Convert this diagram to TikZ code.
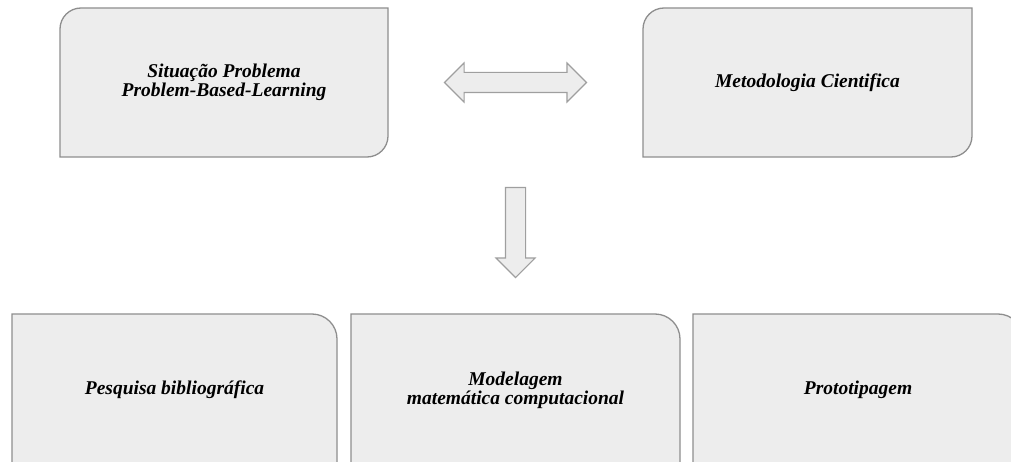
\documentclass[tikz,border=0pt]{standalone}
\usepackage{fontspec}
\setmainfont{Liberation Serif}
\usetikzlibrary{shapes.arrows,backgrounds,calc}

\definecolor{boxfill}{HTML}{EDEDED}
\definecolor{boxline}{HTML}{8E8E8E}

\tikzset{
  box/.style={rectangle, inner sep=0pt, outer sep=0pt, align=center,
    font=\bfseries\itshape\fontsize{19.5}{17.5}\selectfont},
  frame/.style={fill=boxfill, draw=boxline, line width=1.3pt},
  blockarrow/.style={fill=boxfill, draw=boxline!85, line width=1.1pt,
    inner sep=9.5pt, outer sep=0pt}
}

\begin{document}
\begin{tikzpicture}[x=1pt,y=1pt]
        \useasboundingbox (0,0) rectangle (1011,461);
        \clip (0,0) rectangle (1011,461);

        %top boxes
        \node (sit) [box, minimum width=328, minimum height=149] at (224,378.5)
              {Situação Problema\\Problem-Based-Learning};
        \node (met) [box, minimum width=329, minimum height=149] at (807.5,378.5)
              {Metodologia Cientifica};

        %bottom boxes
        \node (pesq) [box, minimum width=325, minimum height=152] at (174.5,71)
              {Pesquisa bibliográfica};
        \node (mod) [box, minimum width=329, minimum height=152] at (515.5,71)
              {Modelagem\\matemática computacional};
        \node (prot) [box, minimum width=330, minimum height=152] at (858,71)
              {Prototipagem};

        %outlines
        \begin{scope}[on background layer]
          \foreach \n in {sit,met}
            \draw[frame] (\n.south west) -- ([yshift=-21]\n.north west)
              arc[start angle=180, end angle=90, radius=21] -- (\n.north east)
              -- ([yshift=21]\n.south east)
              arc[start angle=0, end angle=-90, radius=21] -- cycle;
          \foreach \n in {pesq,mod,prot}
            \draw[frame] (\n.south west) -- (\n.north west)
              -- ([xshift=-25]\n.north east)
              arc[start angle=90, end angle=0, radius=25] -- (\n.south east) -- cycle;
        \end{scope}

        %arrows
        \node (both) [blockarrow, double arrow, double arrow head extend=9.5pt,
              minimum height=142] at ($(sit.east)!0.5!(met.west)$) {};
        \node (down) [blockarrow, single arrow, single arrow head extend=9.5pt,
              minimum height=90, rotate=-90] at (515.5,233.5) {};
\end{tikzpicture}
\end{document}
